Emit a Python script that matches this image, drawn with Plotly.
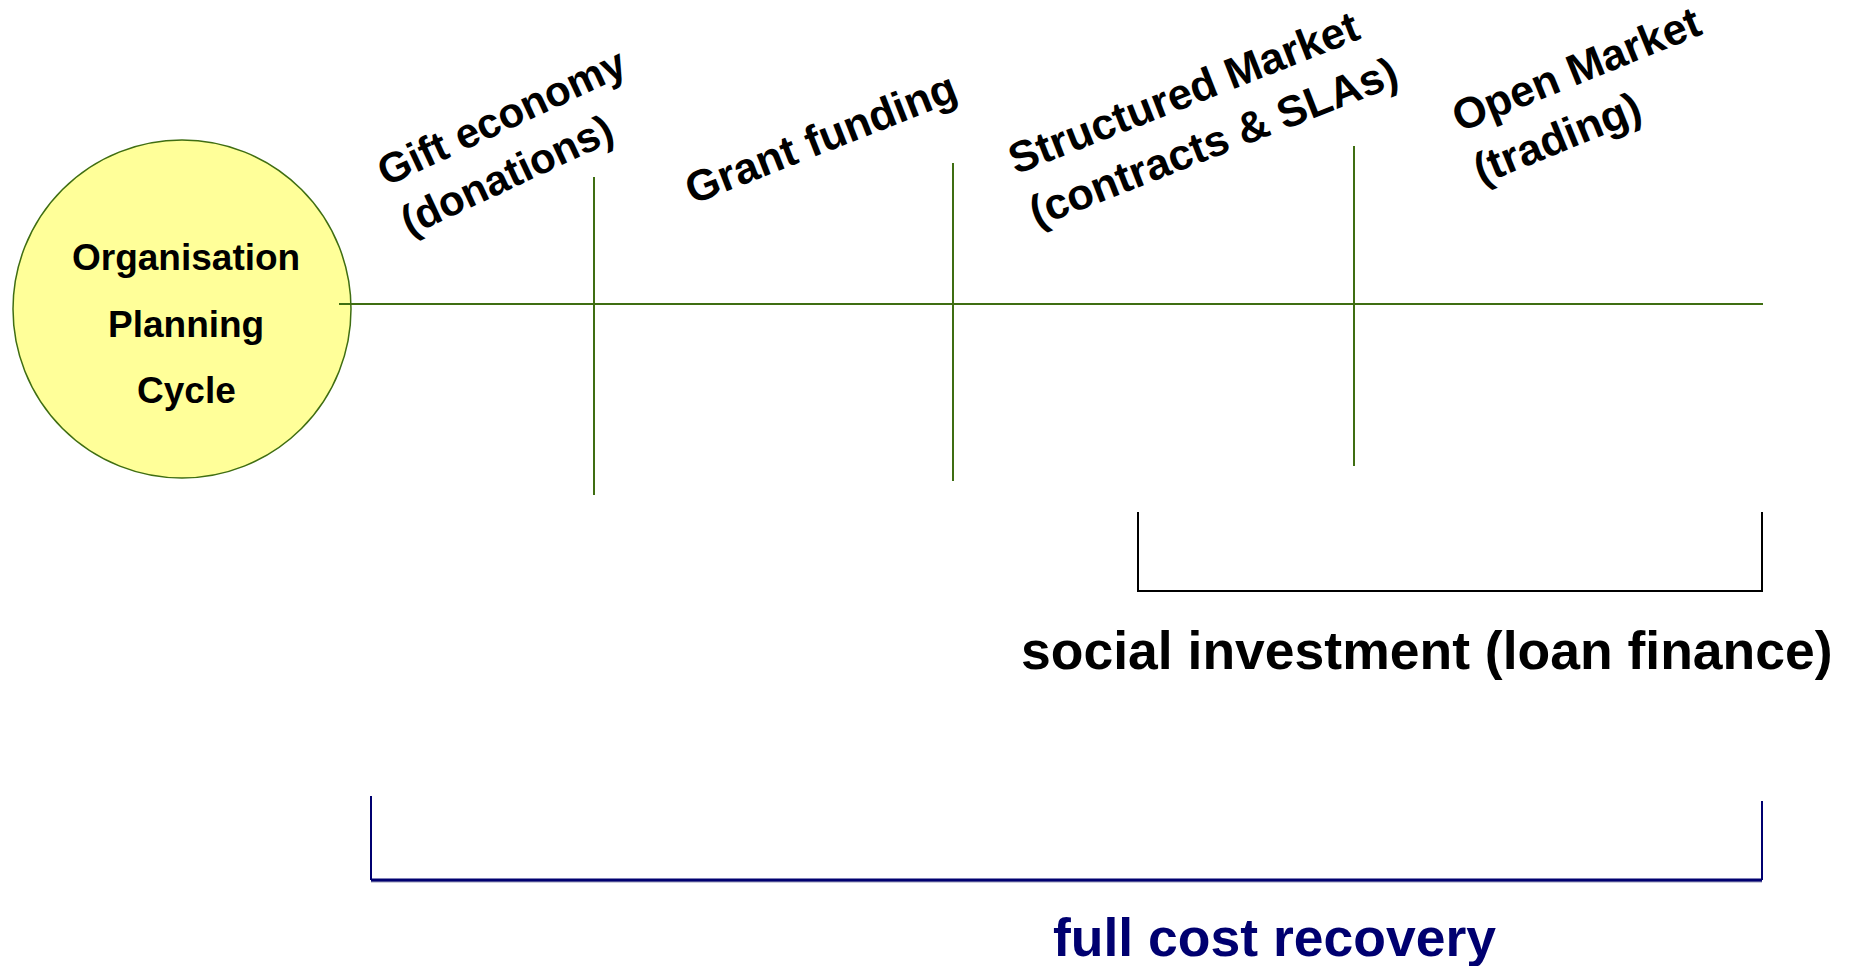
import plotly.graph_objects as go

# ---- diagram content ----
stage_labels = ["Gift economy<br>(donations)", "Grant funding",
                "Structured Market<br>(contracts & SLAs)", "Open Market<br>(trading)"]
stage_label_x = [513, 821, 1203, 1587]
stage_label_y = [142, 138, 115, 95]
stage_label_angle = [-25, -21.5, -21.5, -22]
stage_label_size = [42, 43.5, 43.5, 43.5]

timeline_start = 339
timeline_end = 1763
timeline_y = 304

divider_x = [594, 953, 1354]
divider_top = [177, 163, 146]
divider_bottom = [495, 481, 466]

circle_lines = ["Organisation", "Planning", "Cycle"]
circle_line_y = [257, 324, 390]
circle_center = (182, 309)
circle_radius = 169

loan_bracket_x = [1138, 1762]
loan_bracket_y = [512, 591]
loan_label = "social investment (loan finance)"
loan_label_pos = (1427, 650)

fcr_bracket_x = [371, 1762]
fcr_bracket_top = [796, 801]
fcr_bracket_bottom = 880
fcr_label = "full cost recovery"
fcr_label_pos = (1274, 937)

GREEN = "#3f6e12"
NAVY = "#000070"
FONT = "Liberation Sans, Arial, sans-serif"

fig = go.Figure()

# circle
cx, cy = circle_center
fig.add_shape(type="circle", xref="x", yref="y",
              x0=cx - circle_radius, x1=cx + circle_radius,
              y0=cy - circle_radius, y1=cy + circle_radius,
              fillcolor="#FFFF99", line=dict(color=GREEN, width=1.5), layer="below")

# timeline
fig.add_trace(go.Scatter(x=[timeline_start, timeline_end], y=[timeline_y, timeline_y],
                         mode="lines", line=dict(color=GREEN, width=2),
                         hoverinfo="skip", showlegend=False))
# dividers
dx, dy = [], []
for x, t, b in zip(divider_x, divider_top, divider_bottom):
    dx += [x, x, None]
    dy += [t, b, None]
fig.add_trace(go.Scatter(x=dx, y=dy, mode="lines", line=dict(color=GREEN, width=2),
                         hoverinfo="skip", showlegend=False))

# loan bracket
fig.add_trace(go.Scatter(
    x=[loan_bracket_x[0], loan_bracket_x[0], loan_bracket_x[1], loan_bracket_x[1]],
    y=[loan_bracket_y[0], loan_bracket_y[1], loan_bracket_y[1], loan_bracket_y[0]],
    mode="lines", line=dict(color="black", width=2), hoverinfo="skip", showlegend=False))

# full cost recovery bracket
fig.add_trace(go.Scatter(
    x=[fcr_bracket_x[0], fcr_bracket_x[0], None, fcr_bracket_x[1], fcr_bracket_x[1]],
    y=[fcr_bracket_top[0], fcr_bracket_bottom, None, fcr_bracket_top[1], fcr_bracket_bottom],
    mode="lines", line=dict(color=NAVY, width=2), hoverinfo="skip", showlegend=False))
fig.add_trace(go.Scatter(
    x=[fcr_bracket_x[0], fcr_bracket_x[1]], y=[fcr_bracket_bottom + 1.5, fcr_bracket_bottom + 1.5],
    mode="lines", line=dict(color="#9a9ab8", width=2), hoverinfo="skip", showlegend=False))
fig.add_trace(go.Scatter(
    x=[fcr_bracket_x[0], fcr_bracket_x[1]], y=[fcr_bracket_bottom, fcr_bracket_bottom],
    mode="lines", line=dict(color=NAVY, width=3), hoverinfo="skip", showlegend=False))

annotations = []
for txt, x, y, ang, sz in zip(stage_labels, stage_label_x, stage_label_y,
                              stage_label_angle, stage_label_size):
    annotations.append(dict(x=x, y=y, xref="x", yref="y", text=txt, showarrow=False,
                            textangle=ang, align="left",
                            font=dict(family=FONT, size=sz, color="black", weight="bold")))
for txt, y in zip(circle_lines, circle_line_y):
    annotations.append(dict(x=cx + 4, y=y, xref="x", yref="y", text=txt, showarrow=False,
                            font=dict(family=FONT, size=37, color="black", weight="bold")))
annotations.append(dict(x=loan_label_pos[0], y=loan_label_pos[1], xref="x", yref="y",
                        text=loan_label, showarrow=False,
                        font=dict(family=FONT, size=53.5, color="black", weight="bold")))
annotations.append(dict(x=fcr_label_pos[0], y=fcr_label_pos[1], xref="x", yref="y",
                        text=fcr_label, showarrow=False,
                        font=dict(family=FONT, size=53.5, color=NAVY, weight="bold")))

# the page body has an 8px margin, so the figure is 8px smaller and its ranges start at 8
fig.update_layout(
    width=1841, height=958,
    margin=dict(l=0, r=0, t=0, b=0),
    paper_bgcolor="white", plot_bgcolor="white",
    xaxis=dict(range=[8, 1849], visible=False, fixedrange=True),
    yaxis=dict(range=[966, 8], visible=False, fixedrange=True),
    annotations=annotations,
    showlegend=False,
)

fig.write_html("out.html")
